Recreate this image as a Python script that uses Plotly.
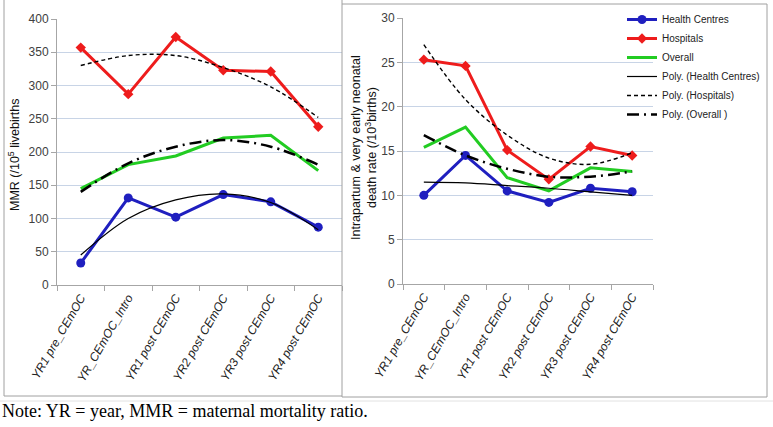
import plotly.graph_objects as go

W, H = 773, 427

categories = ["YR1 pre_CEmOC", "YR_CEmOC_Intro", "YR1 post CEmOC",
              "YR2 post CEmOC", "YR3 post CEmOC", "YR4 post CEmOC"]
tick_labels = ["<i>" + c + "</i>" for c in categories]

# Left panel: MMR (/10^5 livebirths)
mmr_hc = [33, 131, 102, 136, 125, 87]
mmr_hosp = [357, 287, 373, 323, 321, 238]
mmr_overall = [145, 181, 194, 221, 225, 172]
mmr_poly_hc = [45, 100, 128, 137, 124, 83]
mmr_poly_hosp = [330, 345, 345, 327, 298, 252]
mmr_poly_overall = [140, 183, 208, 218, 208, 181]

# Right panel: intrapartum & very early neonatal death rate (/10^3 births)
nd_hc = [10.0, 14.5, 10.5, 9.2, 10.8, 10.4]
nd_hosp = [25.3, 24.6, 15.1, 11.8, 15.5, 14.5]
nd_overall = [15.4, 17.7, 12.0, 10.5, 13.1, 12.7]
nd_poly_hc = [11.5, 11.4, 11.1, 10.8, 10.4, 10.0]
nd_poly_hosp = [27.0, 20.8, 16.8, 14.2, 13.5, 14.8]
nd_poly_overall = [16.8, 14.5, 13.0, 12.1, 12.1, 12.7]

series_names = ["Health Centres", "Hospitals", "Overall",
                "Poly. (Health Centres)", "Poly. (Hospitals)", "Poly. (Overall )"]

BLUE = "#1f1fbf"
RED = "#ee1c1c"
GREEN = "#22cc22"

def px_x(x):
    return x / W

def px_y(y):
    return 1 - y / H

fig = go.Figure()

panels = [
    ("x", "y", [mmr_hc, mmr_hosp, mmr_overall, mmr_poly_hc, mmr_poly_hosp, mmr_poly_overall], True),
    ("x2", "y2", [nd_hc, nd_hosp, nd_overall, nd_poly_hc, nd_poly_hosp, nd_poly_overall], False),
]

for xa, ya, data, show in panels:
    hc, hosp, overall, p_hc, p_hosp, p_ov = data
    fig.add_trace(go.Scatter(x=categories, y=hc, name=series_names[0], legendgroup="hc",
                             showlegend=show, xaxis=xa, yaxis=ya, mode="lines+markers",
                             line=dict(color=BLUE, width=3),
                             marker=dict(symbol="circle", size=9, color=BLUE)))
    fig.add_trace(go.Scatter(x=categories, y=hosp, name=series_names[1], legendgroup="hosp",
                             showlegend=show, xaxis=xa, yaxis=ya, mode="lines+markers",
                             line=dict(color=RED, width=3),
                             marker=dict(symbol="diamond", size=8, color=RED)))
    fig.add_trace(go.Scatter(x=categories, y=overall, name=series_names[2], legendgroup="ov",
                             showlegend=show, xaxis=xa, yaxis=ya, mode="lines",
                             line=dict(color=GREEN, width=3)))
    fig.add_trace(go.Scatter(x=categories, y=p_hc, name=series_names[3], legendgroup="phc",
                             showlegend=show, xaxis=xa, yaxis=ya, mode="lines",
                             line=dict(color="black", width=1.2, shape="spline", smoothing=1)))
    fig.add_trace(go.Scatter(x=categories, y=p_hosp, name=series_names[4], legendgroup="phosp",
                             showlegend=show, xaxis=xa, yaxis=ya, mode="lines",
                             line=dict(color="black", width=1.4, dash="4px,3px", shape="spline", smoothing=1)))
    fig.add_trace(go.Scatter(x=categories, y=p_ov, name=series_names[5], legendgroup="pov",
                             showlegend=show, xaxis=xa, yaxis=ya, mode="lines",
                             line=dict(color="black", width=2.5, dash="12px,5px,2px,5px", shape="spline", smoothing=1)))

tick_font = dict(family="Liberation Sans, Arial, sans-serif", size=12, color="#404040")
xtick_font = dict(family="Liberation Sans, Arial, sans-serif", size=12, color="#222222")
grid = "#c8d4e6"
axcol = "#a6a6a6"

common_x = dict(type="category", range=[-0.5, 5.5], showgrid=False, showline=True,
                linecolor=axcol, linewidth=1, ticks="outside", tickson="boundaries",
                ticklen=5, tickcolor=axcol, tickangle=-60, tickfont=xtick_font, automargin=False,
                tickmode="array", tickvals=categories, ticktext=tick_labels)
common_y = dict(showgrid=True, gridcolor=grid, gridwidth=1, showline=True, linecolor=axcol,
                linewidth=1, ticks="outside", ticklen=5, tickcolor=axcol, tickfont=tick_font,
                zeroline=False, automargin=False)

fig.update_layout(
    width=W, height=H,
    margin=dict(l=0, r=0, t=0, b=0, autoexpand=False),
    paper_bgcolor="white", plot_bgcolor="white",
    xaxis=dict(domain=[px_x(57), px_x(342)], anchor="y", **common_x),
    yaxis=dict(domain=[px_y(285), px_y(19)], anchor="x", range=[0, 400], dtick=50, **common_y),
    xaxis2=dict(domain=[px_x(403), px_x(653)], anchor="y2", **common_x),
    yaxis2=dict(domain=[px_y(284), px_y(18)], anchor="x2", range=[0, 30], dtick=5, **common_y),
    legend=dict(x=px_x(622), y=px_y(5), xanchor="left", yanchor="top",
                font=dict(family="Liberation Sans, Arial, sans-serif", size=10, color="#222222"),
                bgcolor="rgba(0,0,0,0)", tracegroupgap=0, itemwidth=30),
    showlegend=True,
)

# Chart frames and faint spreadsheet lines
shapes = []
frame = "#a0a0a0"
shapes.append(dict(type="line", xref="paper", yref="paper", x0=px_x(4), x1=px_x(4), y0=px_y(0), y1=px_y(396), line=dict(color=frame, width=1)))
shapes.append(dict(type="line", xref="paper", yref="paper", x0=px_x(4), x1=px_x(342), y0=px_y(396), y1=px_y(396), line=dict(color=frame, width=1)))
shapes.append(dict(type="line", xref="paper", yref="paper", x0=px_x(342), x1=px_x(342), y0=px_y(0), y1=px_y(397), line=dict(color=frame, width=1)))
shapes.append(dict(type="line", xref="paper", yref="paper", x0=px_x(342), x1=px_x(767), y0=px_y(4), y1=px_y(4), line=dict(color=frame, width=1)))
shapes.append(dict(type="line", xref="paper", yref="paper", x0=px_x(767), x1=px_x(767), y0=px_y(4), y1=px_y(397), line=dict(color=frame, width=1)))
shapes.append(dict(type="line", xref="paper", yref="paper", x0=px_x(342), x1=px_x(767), y0=px_y(397), y1=px_y(397), line=dict(color=frame, width=1)))
shapes.append(dict(type="line", xref="paper", yref="paper", x0=0, x1=1, y0=px_y(401), y1=px_y(401), line=dict(color="#e2e2e2", width=1)))
fig.update_layout(shapes=shapes)

ann_font = dict(family="Liberation Sans, Arial, sans-serif", size=12.5, color="#111111")
fig.add_annotation(text="MMR (/10<sup>5</sup> livebirths", xref="paper", yref="paper",
                   x=px_x(14), y=px_y(155), textangle=-90, showarrow=False,
                   xanchor="center", yanchor="middle", font=ann_font)
fig.add_annotation(text="Intrapartum & very early neonatal<br>death rate (/10<sup>3</sup>births)",
                   xref="paper", yref="paper", x=px_x(364), y=px_y(148), textangle=-90,
                   showarrow=False, xanchor="center", yanchor="middle", font=ann_font)
fig.add_annotation(text="Note: YR = year, MMR = maternal mortality ratio.", xref="paper", yref="paper",
                   x=px_x(0), y=px_y(411), xanchor="left", yanchor="middle", showarrow=False,
                   font=dict(family="Liberation Serif, Times New Roman, serif", size=18, color="black"))

fig.write_html("out.html", config={"displayModeBar": False},
               post_script="document.body.style.margin='0';document.body.style.padding='0';")
